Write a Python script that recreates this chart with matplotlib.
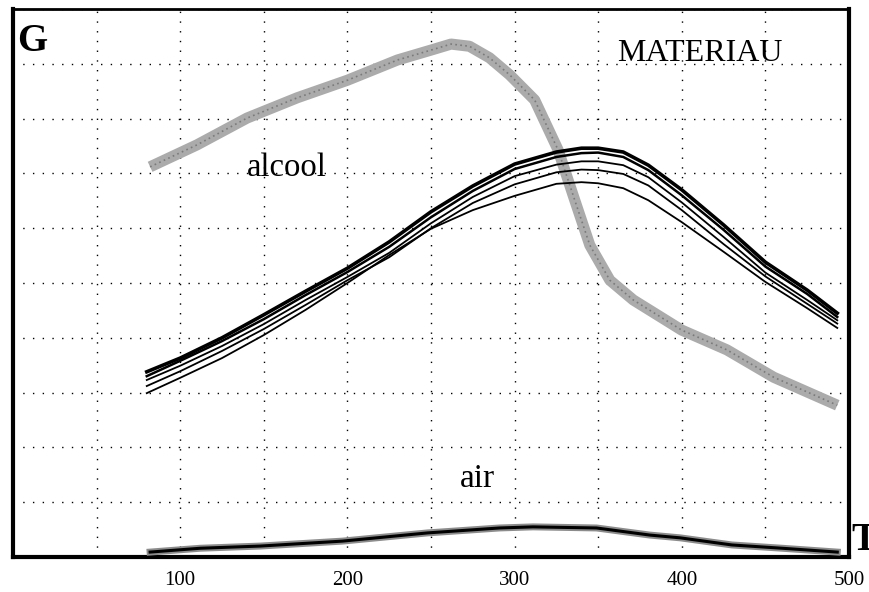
import matplotlib
matplotlib.use('Agg')
import matplotlib.pyplot as plt

# --- Data (x = temperature T, y = grid units 0..10) ---
T_MAT = [80, 100, 125, 150, 175, 200, 225, 250, 275, 300,
         325, 340, 350, 365, 380, 400, 425, 450, 475, 493]
MAT_1 = [3.38, 3.63, 4.00, 4.42, 4.85, 5.27, 5.75, 6.30, 6.77, 7.17,
         7.39, 7.46, 7.46, 7.39, 7.15, 6.70, 6.06, 5.38, 4.87, 4.45]
MAT_2 = [3.30, 3.58, 3.94, 4.34, 4.78, 5.20, 5.66, 6.20, 6.68, 7.08,
         7.30, 7.37, 7.38, 7.30, 7.06, 6.60, 5.97, 5.30, 4.80, 4.38]
MAT_3 = [3.23, 3.49, 3.85, 4.25, 4.69, 5.11, 5.55, 6.09, 6.57, 6.95,
         7.16, 7.22, 7.22, 7.15, 6.93, 6.47, 5.84, 5.19, 4.69, 4.32]
MAT_4 = [3.12, 3.39, 3.76, 4.16, 4.60, 5.05, 5.47, 6.00, 6.46, 6.80,
         7.02, 7.07, 7.06, 6.99, 6.78, 6.33, 5.71, 5.12, 4.62, 4.26]
MAT_5 = [2.99, 3.27, 3.63, 4.05, 4.51, 5.00, 5.51, 5.99, 6.33, 6.59,
         6.81, 6.84, 6.82, 6.73, 6.51, 6.11, 5.57, 5.02, 4.54, 4.18]

T_ALCOOL = [82, 110, 140, 170, 200, 230, 250, 262, 273, 285, 297,
            312, 326, 336, 345, 357, 371, 400, 427, 455, 493]
ALCOOL = [7.12, 7.52, 8.01, 8.38, 8.70, 9.07, 9.25, 9.36, 9.32, 9.11, 8.80,
          8.34, 7.43, 6.51, 5.69, 5.05, 4.69, 4.14, 3.78, 3.28, 2.77]

T_AIR = [82, 112, 148, 197, 248, 291, 311, 349, 381, 399, 430, 460, 493]
AIR = [0.09, 0.16, 0.20, 0.29, 0.44, 0.53, 0.55, 0.53, 0.40, 0.35, 0.22, 0.16, 0.09]

X_GRID = [0, 50, 100, 150, 200, 250, 300, 350, 400, 450, 500]
X_LABELS = ['', '', '100', '', '200', '', '300', '', '400', '', '500']
Y_GRID = [0, 1, 2, 3, 4, 5, 6, 7, 8, 9, 10]

SERIF = ['Liberation Serif', 'DejaVu Serif']


def draw_curves(ax):
    # alcool: stippled grey band
    ax.plot(T_ALCOOL, ALCOOL, color='#ababab', lw=8, solid_capstyle='butt', zorder=2)
    ax.plot(T_ALCOOL, ALCOOL, color='#7a7a7a', lw=1.2, ls=(0, (1, 2)), zorder=2)

    # material: bundle of black lines
    for ys, lw in [(MAT_1, 2.6), (MAT_2, 1.8), (MAT_3, 1.3), (MAT_4, 1.3), (MAT_5, 1.3)]:
        ax.plot(T_MAT, ys, color='black', lw=lw, zorder=3)

    # air: flat band near the bottom
    ax.plot(T_AIR, AIR, color='#8c8c8c', lw=5, zorder=3)
    ax.plot(T_AIR, AIR, color='black', lw=2.2, zorder=4)


def style_axes(ax):
    ax.set_xlim(0, 500)
    ax.set_ylim(0, 10)
    ax.set_xticks(X_GRID, labels=X_LABELS)
    ax.set_yticks(Y_GRID, labels=[''] * len(Y_GRID))
    ax.tick_params(axis='both', length=0)
    ax.tick_params(axis='x', pad=10, labelsize=15)
    for lab in ax.get_xticklabels():
        lab.set_family(SERIF)
    ax.grid(True, color='black', lw=1.0, ls=(0, (1, 6)))
    ax.set_axisbelow(True)
    for side in ['left', 'right', 'bottom']:
        ax.spines[side].set_linewidth(3)
    ax.spines['top'].set_linewidth(2)


def main():
    fig = plt.figure(figsize=(8.69, 5.92), dpi=100)
    ax = fig.add_axes([0.01496, 0.0591, 0.962, 0.9257])

    draw_curves(ax)
    style_axes(ax)

    fig.text(0.0196, 0.9139, 'G', family=SERIF, weight='bold', fontsize=28,
             ha='left', va='baseline')
    fig.text(0.980, 0.071, 'T', family=SERIF, weight='bold', fontsize=28,
             ha='left', va='baseline')
    fig.text(0.710, 0.897, 'MATERIAU', family=SERIF, fontsize=23,
             ha='left', va='baseline')
    fig.text(0.284, 0.703, 'alcool', family=SERIF, fontsize=23.5,
             ha='left', va='baseline')
    fig.text(0.529, 0.177, 'air', family=SERIF, fontsize=24,
             ha='left', va='baseline')

    fig.savefig('out.png', dpi=100)


if __name__ == '__main__':
    main()
